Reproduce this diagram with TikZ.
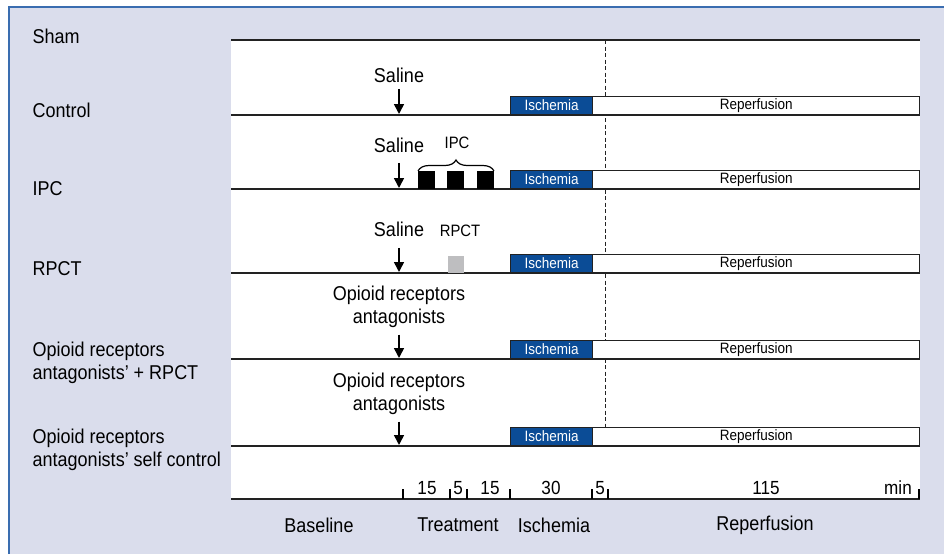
\documentclass[tikz,border=0pt]{standalone}
\usepackage{fontspec}
\setmainfont{Liberation Sans}[FakeStretch=0.9]
\usetikzlibrary{arrows.meta, decorations.pathreplacing, positioning, calc}
\definecolor{frameBlue}{HTML}{3A6DB0}
\definecolor{panelGrey}{HTML}{DADDEC}
\definecolor{ischBlue}{HTML}{0B4C96}
\definecolor{rpctGrey}{HTML}{BEBEC0}
\definecolor{lineDark}{HTML}{222222}
\tikzset{
  % one unit is one pixel of the final figure
  every picture/.append style = {line width=1.4pt, >={Triangle[length=10pt, width=10pt]}},
  rowline/.style  = {line width=1.6pt, lineDark},
  grplbl/.style   = {font=\fontsize{20}{23}\selectfont, anchor=base west, align=left, inner sep=0pt},
  lbl/.style      = {font=\fontsize{20}{23}\selectfont, align=center, inner sep=0pt},
  slbl/.style     = {font=\fontsize{16.5}{18}\selectfont, inner sep=0pt},
  numlbl/.style   = {font=\fontsize{19}{20}\selectfont, anchor=base, inner sep=0pt},
  ischbox/.style  = {draw=lineDark, fill=ischBlue, text=white, font=\fontsize{15}{15}\selectfont,
                     minimum width=82pt, minimum height=18pt, inner sep=0pt, anchor=south west},
  repbox/.style   = {draw=lineDark, fill=white, font=\fontsize{15}{15}\selectfont,
                     minimum width=327pt, minimum height=18pt, inner sep=0pt, anchor=south west},
  inj/.style      = {->, line width=1.6pt},
  axtick/.style   = {line width=1.2pt},
}

\begin{document}
\begin{tikzpicture}[x=1pt, y=-1pt]
  \useasboundingbox (0,0) rectangle (944,554);
  % background and frame
  \fill[panelGrey] (8,6) rectangle (944,554);
  \draw[frameBlue, line width=2pt] (8.5,554) -- (8.5,6.5) -- (944,6.5);
  \fill[white] (231,40) rectangle (920,499);
  % end of the first reperfusion minutes
  \draw[lineDark, line width=1pt, dash pattern=on 4pt off 2.5pt] (605,40) -- (605,428);
  % group time lines
  \foreach \y in {40,115,189,273,359,446}
    \draw[rowline] (231,\y) -- (919.5,\y);
  \foreach \nm/\y in {ctl/115, ipc/189, rpct/273, oprp/359, opsc/446} {
    \node[ischbox] (isch\nm) at (510,\y) {Ischemia};
    \node[repbox] (rep\nm) at (592,\y) {Reperfusion};
    \coordinate (hit\nm) at (399,\y-1);
  }
  % group names (two-line names sit on their last baseline)
  \node[grplbl] (gsham) at (32,43) {Sham};
  \node[grplbl] (gctl) at (32,117) {Control};
  \node[grplbl] (gipc) at (32,195) {IPC};
  \node[grplbl] (grpct) at (32,275) {RPCT};
  \node[grplbl] (goprp) at (32,379) {Opioid receptors\\antagonists' + RPCT};
  \node[grplbl] (gopsc) at (32,466) {Opioid receptors\\antagonists' self control};
  % what is given before the treatment
  \node[lbl, anchor=base] (salctl) at (399,82) {Saline};
  \node[lbl, anchor=base] (salipc) at (399,152) {Saline};
  \node[lbl, anchor=base] (salrpct) at (399,236) {Saline};
  \node[lbl] (saloprp) at (399,307) {Opioid receptors\\antagonists};
  \node[lbl] (salopsc) at (399,394) {Opioid receptors\\antagonists};
  \foreach \nm/\gap in {ctl/6, ipc/10, rpct/11, oprp/6, opsc/6}
    \draw[inj, shorten <=\gap pt] (sal\nm) -- (hit\nm);
  % ischemic preconditioning cycles
  \foreach \x in {418,447,477}
    \fill (\x,189) rectangle ++(17,-18);
  \draw[decorate, decoration={brace, amplitude=11pt}, line width=1.2pt] (418,171) -- (494,171);
  \node[slbl, anchor=base] (ipclbl) at (457,148) {IPC};
  % remote conditioning
  \fill[rpctGrey] (448,273) rectangle (464,256);
  \node[slbl, anchor=base] (rpctlbl) at (460,236) {RPCT};
  % time axis
  \draw[rowline] (231,499) -- (920,499);
  \foreach \x in {403,450,467,510,592,608,919}
    \draw[axtick] (\x,499) -- (\x,489);
  \foreach \x/\t in {427/15, 458/5, 490/15, 551/30, 600/5, 766/115, 898/min}
    \node[numlbl] (num\x) at (\x,494) {\t};
  % phases
  \node[lbl] (phbase) at (319,525) {Baseline};
  \node[lbl] (phtreat) at (458,525) {Treatment};
  \node[lbl] (phisch) at (554,525) {Ischemia};
  \node[lbl] (phrep) at (765,525) {Reperfusion};
\end{tikzpicture}
\end{document}
